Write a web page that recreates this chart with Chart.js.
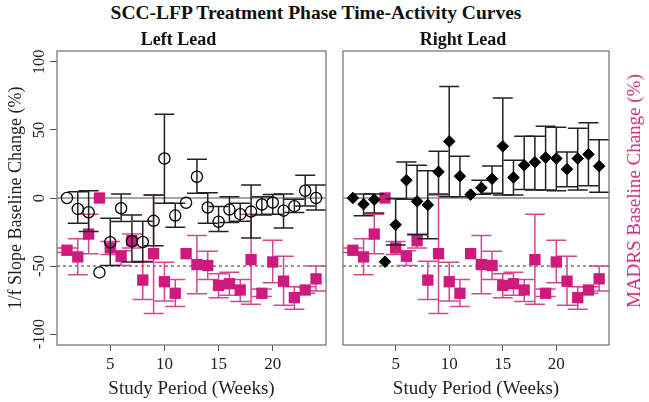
<!DOCTYPE html>
<html><head><meta charset="utf-8">
<script src="https://cdn.jsdelivr.net/npm/chart.js@4.4.1/dist/chart.umd.min.js"></script>
<style>
html,body{margin:0;padding:0;background:#fff;}
#wrap{position:relative;width:649px;height:402px;overflow:hidden;font-family:"Liberation Serif",serif;}
#mainTitle{position:absolute;left:0;top:1px;width:632px;text-align:center;font-weight:bold;font-size:19.5px;line-height:24px;color:#111;}
#c1{position:absolute;left:0;top:0;}
#c2{position:absolute;left:335px;top:0;}
#rTitle{position:absolute;left:634px;top:191px;transform:translate(-50%,-50%) rotate(-90deg);white-space:nowrap;font-size:19px;color:#cc2a80;}
</style></head>
<body><div id="wrap">
<div id="mainTitle">SCC-LFP Treatment Phase Time-Activity Curves</div>
<canvas id="c1" width="335" height="402"></canvas>
<canvas id="c2" width="314" height="402"></canvas>
<div id="rTitle">MADRS Baseline Change (%)</div>
</div>
<script>
// ---- data ----
const weeks = [1,2,3,4,5,6,7,8,9,10,11,12,13,14,15,16,17,18,19,20,21,22,23,24];
const xTicks = [5,10,15,20];
const yTicks = [-100,-50,0,50,100];
const panelTitles = ["Left Lead","Right Lead"];
const xTitle = "Study Period (Weeks)";
const yTitleLeft = "1/f Slope Baseline Change (%)";
const zeroLine = 0;
const madrsTarget = -50;

const leftSlope     = [0,-8,-10.5,-54.7,-32.5,-7.5,-31.8,-32.3,-16.8,29,-12.9,-3.5,15.6,-7,-17.5,-8.5,-11.9,-10,-4.8,-3.3,-9.3,-6,5.3,0];
const leftSlopeLow  = [null,-18.5,-24.6,null,-49.6,-17.3,-47,-47,-35,-3.9,-21.4,null,3.4,-18.5,-24.6,-18,-17,-29.4,-12.4,-12,-22.1,-10.7,-5.8,-8.8];
const leftSlopeHigh = [null,4.6,5.3,null,-14.8,2.9,-12.4,-17,2.2,61.5,-3.9,null,28.5,3.9,-6.3,1,-3.9,9.5,1,2.5,2.9,-1,16.8,9.5];

const rightSlope     = [0,-4.5,-1.2,-46.8,-19.7,13.1,-2.5,-5.1,19.2,41.6,16,2.5,7.5,14.1,38,15.1,24.1,26.3,29.7,29,21.2,29,32.1,23.4];
const rightSlopeLow  = [null,-13.1,-11,null,-34.5,-1,-27,-30,2.9,1,1,null,2.7,3.4,2.2,2.2,6.3,5.8,5.8,5.3,8.3,5.8,9,4.2];
const rightSlopeHigh = [null,2.9,2.9,null,-0.6,26.5,24.1,20,34.3,82,30.7,null,13.1,23.6,73.5,27.7,45.3,45.3,52.8,52,33.8,51.3,55.2,42.8];

const madrs     = [-38.4,-43.3,-26.5,0,-36.7,-42.8,-31.4,-60.3,-40.9,-61.5,-70,-40.9,-48.9,-49.6,-64.2,-63,-67.6,-45.3,-70,-47,-61.1,-73.2,-67.6,-59.4];
const madrsLow  = [-40,-56.4,-40.9,null,-41.6,-49.6,-36.7,-74.5,-84.9,-75.7,-79.8,null,-70.3,-59.9,-73.2,-71.5,-76,-78.1,-72.3,-62.3,-78.8,-81.8,-70,-68.4];
const madrsHigh = [-36.7,-30,-11.9,null,-31.9,-38.7,-26.5,-46.5,2.2,-47.2,-59.9,null,-27.5,-39.2,-55.7,-54.5,-59.9,-11.9,-66.9,-31.1,-42.8,-65.2,-65.2,-50];

// ---- styling ----
const FONT = "Liberation Serif";
const PINK = "#cf1a7d";
const PINK_BAR = "#d2488f";
const X_MIN = 0.08, X_MAX = 24.92, Y_MIN = -108, Y_MAX = 108;

const pts = (vals)=>weeks.map((w,i)=>({x:w,y:vals[i]}));

const errorBars = {
  id:'errorBars',
  beforeDatasetDraw(chart,args){
    const ds = chart.data.datasets[args.index];
    if(!ds.errLow) return;
    const {ctx, scales:{x,y}} = chart;
    const cap = 10;
    ctx.save();
    ctx.strokeStyle = ds.errColor; ctx.lineWidth = 1.5;
    ds.data.forEach((p,i)=>{
      const lo = ds.errLow[i], hi = ds.errHigh[i];
      if(lo==null||hi==null) return;
      const px = x.getPixelForValue(p.x);
      const yl = y.getPixelForValue(lo), yh = y.getPixelForValue(hi);
      ctx.beginPath();
      ctx.moveTo(px,yl); ctx.lineTo(px,yh);
      ctx.moveTo(px-cap,yl); ctx.lineTo(px+cap,yl);
      ctx.moveTo(px-cap,yh); ctx.lineTo(px+cap,yh);
      ctx.stroke();
    });
    ctx.restore();
  }
};

const frame = {
  id:'frame',
  beforeDatasetsDraw(chart){
    const {ctx, chartArea:a, scales:{y}} = chart;
    ctx.save();
    ctx.beginPath(); ctx.rect(a.left,a.top,a.width,a.height); ctx.clip();
    let py = y.getPixelForValue(zeroLine);
    ctx.strokeStyle = '#8a8a8a'; ctx.lineWidth = 1.5;
    ctx.beginPath(); ctx.moveTo(a.left,py); ctx.lineTo(a.right,py); ctx.stroke();
    py = y.getPixelForValue(madrsTarget);
    ctx.strokeStyle = '#333'; ctx.lineWidth = 1; ctx.setLineDash([3,3]);
    ctx.beginPath(); ctx.moveTo(a.left,py); ctx.lineTo(a.right,py); ctx.stroke();
    ctx.restore();
  },
  afterDraw(chart, args, opts){
    const {ctx, chartArea:a} = chart;
    ctx.save();
    ctx.strokeStyle = '#7a7a7a'; ctx.lineWidth = 1.3;
    ctx.strokeRect(a.left, a.top, a.width, a.height);
    // panel title
    ctx.fillStyle = '#111';
    ctx.font = "bold 18px '"+FONT+"'";
    ctx.textAlign = 'center'; ctx.textBaseline = 'middle';
    ctx.fillText(opts.title, (a.left+a.right)/2 - 13, 40);
    // rotated y tick labels
    if(opts.yLabels){
      const y = chart.scales.y;
      ctx.font = "16.5px '"+FONT+"'";
      ctx.fillStyle = '#222';
      y.ticks.forEach(t=>{
        const py = y.getPixelForValue(t.value);
        ctx.save(); ctx.translate(40, py); ctx.rotate(-Math.PI/2);
        ctx.fillText(String(t.value), 0, 0);
        ctx.restore();
      });
    }
    ctx.restore();
  }
};

function xScale(){
  return {
    type:'linear', min:X_MIN, max:X_MAX,
    afterBuildTicks: s=>{ s.ticks = xTicks.map(v=>({value:v})); },
    afterFit: s=>{ s.height = 55; },
    grid:{drawOnChartArea:false, drawTicks:true, tickLength:6, color:'#555', lineWidth:1},
    border:{display:false},
    ticks:{font:{family:FONT,size:17}, color:'#222', padding:3, maxRotation:0, autoSkip:false},
    title:{display:true, text:xTitle, font:{family:FONT,size:19}, color:'#222', padding:{top:0,bottom:0}}
  };
}

function makeChart(id, slope, lo, hi, slopeStyle, left){
  const slopeDs = {
    data:pts(slope), errLow:lo, errHigh:hi, errColor:'#222',
    pointStyle: slopeStyle==='circle'?'circle':'rectRot',
    pointRadius: slopeStyle==='circle'?5.6:5.8,
    pointBorderColor:'#000', pointBorderWidth: slopeStyle==='circle'?1.3:1,
    pointBackgroundColor: slopeStyle==='circle'?'rgba(0,0,0,0)':'#000',
    showLine:false
  };
  const madrsDs = {
    data:pts(madrs), errLow:madrsLow, errHigh:madrsHigh, errColor:PINK_BAR,
    pointStyle:'rect', pointRadius:8, pointBorderWidth:0,
    pointBackgroundColor:PINK, pointBorderColor:PINK, showLine:false
  };
  const yScale = {
    min:Y_MIN, max:Y_MAX,
    afterBuildTicks: s=>{ s.ticks = yTicks.map(v=>({value:v})); },
    grid:{drawOnChartArea:false, drawTicks:true, tickLength:7, color:'#555'},
    border:{display:false},
    ticks:{display:false}
  };
  if(left){
    yScale.afterFit = s=>{ s.width = 57; };
    yScale.title = {display:true, text:yTitleLeft, font:{family:FONT,size:18}, color:'#222', padding:{top:5,bottom:0}};
  } else {
    yScale.display = false;
  }
  return new Chart(document.getElementById(id), {
    type:'scatter',
    data:{datasets:[slopeDs, madrsDs]},
    options:{
      responsive:false, animation:false, events:[],
      layout:{padding: left?{top:51,left:0,right:9,bottom:2}:{top:51,left:5,right:40,bottom:2}},
      plugins:{legend:{display:false}, tooltip:{enabled:false},
        frame:{title: left?panelTitles[0]:panelTitles[1], yLabels:left}},
      scales:{x:xScale(), y:yScale}
    },
    plugins:[errorBars, frame]
  });
}

makeChart('c1', leftSlope, leftSlopeLow, leftSlopeHigh, 'circle', true);
makeChart('c2', rightSlope, rightSlopeLow, rightSlopeHigh, 'diamond', false);
</script>
</body></html>
